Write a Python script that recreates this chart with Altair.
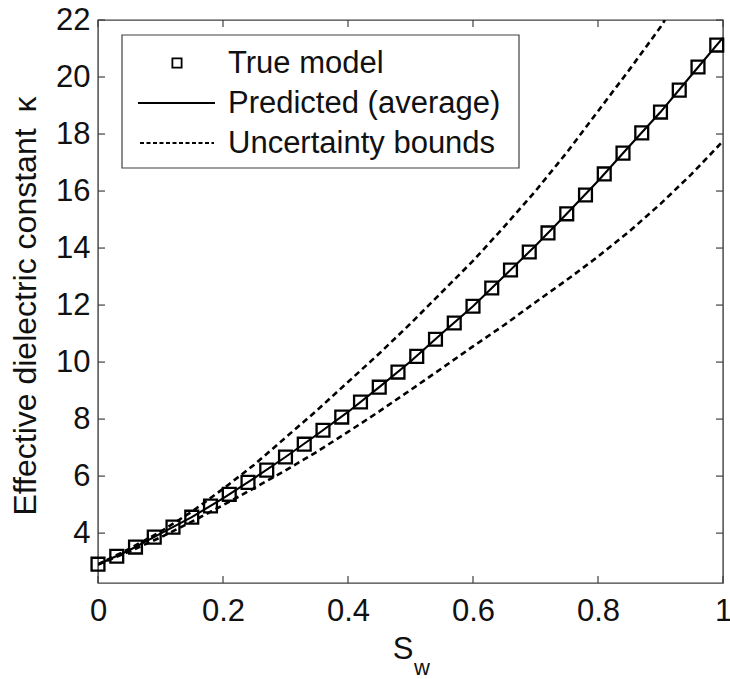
import altair as alt
import pandas as pd

# Saturation samples of the reference ("true") model and its dielectric constant
sw_true = [0.00, 0.03, 0.06, 0.09, 0.12, 0.15, 0.18, 0.21, 0.24, 0.27, 0.30, 0.33,
           0.36, 0.39, 0.42, 0.45, 0.48, 0.51, 0.54, 0.57, 0.60, 0.63, 0.66, 0.69,
           0.72, 0.75, 0.78, 0.81, 0.84, 0.87, 0.90, 0.93, 0.96, 0.99]
kappa_true = [2.91, 3.19, 3.51, 3.86, 4.21, 4.56, 4.95, 5.36, 5.78, 6.21, 6.67, 7.12,
              7.61, 8.07, 8.60, 9.12, 9.65, 10.20, 10.80, 11.37, 11.96, 12.60, 13.23, 13.86,
              14.53, 15.20, 15.86, 16.60, 17.33, 18.04, 18.77, 19.54, 20.35, 21.12]

# Predicted (average) curve and uncertainty bounds
sw_curve = [0.00, 0.05, 0.10, 0.15, 0.20, 0.25, 0.30, 0.35, 0.40, 0.45, 0.50,
            0.55, 0.60, 0.65, 0.70, 0.75, 0.80, 0.85, 0.90, 0.95, 1.00]
kappa_pred = [2.90, 3.40, 3.98, 4.56, 5.22, 5.93, 6.67, 7.45, 8.25, 9.12, 10.02,
              11.00, 11.96, 13.02, 14.08, 15.20, 16.35, 17.57, 18.77, 20.08, 21.38]
sw_upper = [0.00, 0.05, 0.10, 0.15, 0.20, 0.25, 0.30, 0.35, 0.40, 0.45, 0.50,
            0.55, 0.60, 0.65, 0.70, 0.75, 0.80, 0.85, 0.90, 0.907]
kappa_upper = [2.90, 3.45, 4.05, 4.75, 5.55, 6.40, 7.35, 8.30, 9.30, 10.30, 11.35,
               12.45, 13.55, 14.75, 16.00, 17.35, 18.80, 20.25, 21.75, 22.00]
kappa_lower = [2.90, 3.35, 3.85, 4.40, 4.98, 5.58, 6.20, 6.85, 7.55, 8.27, 9.02,
               9.78, 10.55, 11.30, 12.10, 12.88, 13.70, 14.58, 15.55, 16.60, 17.75]

x_ticks = [0, 0.2, 0.4, 0.6, 0.8, 1]
y_ticks = [4, 6, 8, 10, 12, 14, 16, 18, 20, 22]

W, H = 625, 563
FONT = "Liberation Sans"
FS = 31
INK = "#111111"
FRAME = "#404040"

xs = alt.Scale(domain=[0, 1], nice=False, zero=False)
ys = alt.Scale(domain=[2.25, 22], nice=False, zero=False)

x_axis = alt.Axis(values=x_ticks, format="~g", title=None, labelPadding=13,
                  labelFlush=False)
y_axis = alt.Axis(values=y_ticks, format="d", title=None, labelPadding=8)

pred_df = pd.DataFrame({"sw": sw_curve, "kappa": kappa_pred})
bounds_df = pd.concat([
    pd.DataFrame({"sw": sw_upper, "kappa": kappa_upper, "bound": "upper"}),
    pd.DataFrame({"sw": sw_curve, "kappa": kappa_lower, "bound": "lower"}),
])
true_df = pd.DataFrame({"sw": sw_true, "kappa": kappa_true})

bounds = alt.Chart(bounds_df).mark_line(
    color="black", strokeWidth=2.6, strokeDash=[6, 4], clip=True
).encode(
    x=alt.X("sw:Q", scale=xs, axis=x_axis),
    y=alt.Y("kappa:Q", scale=ys, axis=y_axis),
    detail="bound:N",
    order="sw:Q",
)

pred = alt.Chart(pred_df).mark_line(color="black", strokeWidth=2.1, clip=True).encode(
    x=alt.X("sw:Q", scale=xs),
    y=alt.Y("kappa:Q", scale=ys),
    order="sw:Q",
)

squares = alt.Chart(true_df).mark_point(
    shape="square", size=165, filled=False, color="black", strokeWidth=2.3, opacity=1
).encode(
    x=alt.X("sw:Q", scale=xs),
    y=alt.Y("kappa:Q", scale=ys),
)

# Inward tick marks on all four sides of the frame
xt_df = pd.DataFrame({"v": x_ticks})
yt_df = pd.DataFrame({"v": y_ticks})
TL = 7
tick_bottom = alt.Chart(xt_df).mark_rule(color=FRAME, strokeWidth=1.2).encode(
    x=alt.X("v:Q", scale=xs), y=alt.value(H), y2=alt.value(H - TL))
tick_top = alt.Chart(xt_df).mark_rule(color=FRAME, strokeWidth=1.2).encode(
    x=alt.X("v:Q", scale=xs), y=alt.value(0), y2=alt.value(TL))
tick_left = alt.Chart(yt_df).mark_rule(color=FRAME, strokeWidth=1.2).encode(
    y=alt.Y("v:Q", scale=ys), x=alt.value(0), x2=alt.value(TL))
tick_right = alt.Chart(yt_df).mark_rule(color=FRAME, strokeWidth=1.2).encode(
    y=alt.Y("v:Q", scale=ys), x=alt.value(W), x2=alt.value(W - TL))

one = pd.DataFrame({"k": [0]})

# Legend box
leg_box = alt.Chart(one).mark_rect(fill="white", stroke=FRAME, strokeWidth=1.2).encode(
    x=alt.value(24), x2=alt.value(421), y=alt.value(15), y2=alt.value(148))
leg_sq = alt.Chart(one).mark_point(
    shape="square", size=85, filled=False, color="black", strokeWidth=1.8, opacity=1
).encode(x=alt.value(79), y=alt.value(43))
leg_solid = alt.Chart(one).mark_rule(color="black", strokeWidth=2).encode(
    x=alt.value(40), x2=alt.value(117), y=alt.value(83))
leg_dash = alt.Chart(one).mark_rule(color="black", strokeWidth=1.8, strokeDash=[4, 2.5]).encode(
    x=alt.value(42), x2=alt.value(116), y=alt.value(123))

leg_labels = ["True model", "Predicted (average)", "Uncertainty bounds"]
leg_rows = [53, 93, 133]
leg_text_df = pd.DataFrame({"label": leg_labels, "row": leg_rows})
leg_text = alt.Chart(leg_text_df).mark_text(
    align="left", baseline="alphabetic", font=FONT, fontSize=FS, color=INK
).encode(x=alt.value(130), y=alt.Y("row:Q", scale=None), text="label:N")

# Axis titles
y_title = alt.Chart(one).mark_text(
    text="Effective dielectric constant\u2002\u03ba", angle=270, align="center",
    baseline="alphabetic", font=FONT, fontSize=32, color=INK
).encode(x=alt.value(-62), y=alt.value(286))
x_title_s = alt.Chart(one).mark_text(
    text="S", align="center", baseline="alphabetic", font=FONT, fontSize=FS, color=INK
).encode(x=alt.value(305), y=alt.value(639))
x_title_w = alt.Chart(one).mark_text(
    text="w", align="left", baseline="alphabetic", font=FONT, fontSize=22, color=INK
).encode(x=alt.value(316), y=alt.value(655))

chart = alt.layer(
    bounds, pred, squares,
    tick_bottom, tick_top, tick_left, tick_right,
    leg_box, leg_sq, leg_solid, leg_dash, leg_text,
    y_title, x_title_s, x_title_w,
).properties(
    width=W, height=H,
    autosize=alt.AutoSizeParams(type="none"),
    padding={"left": 98, "top": 20, "right": 7, "bottom": 96},
    background="white",
).configure_view(
    stroke=FRAME, strokeWidth=1.4
).configure_axis(
    domain=False, ticks=False, grid=False,
    labelFont=FONT, labelFontSize=FS, labelColor=INK,
)

chart.save("out.html", embed_options={"renderer": "svg", "actions": False})
